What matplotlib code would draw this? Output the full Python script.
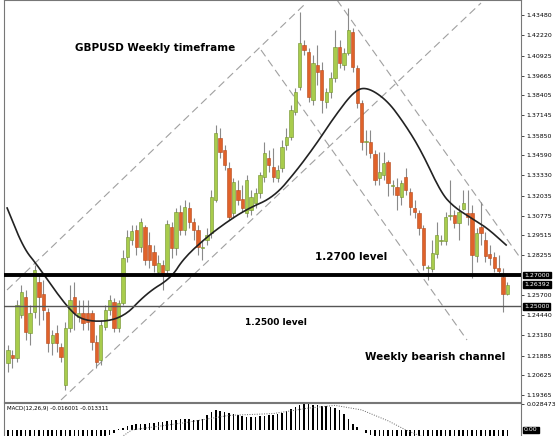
import numpy as np
import matplotlib
matplotlib.use("Agg")
import matplotlib.pyplot as plt
from matplotlib.patches import Rectangle

# Readings in chart units (vertical unit = screen row),
# calibrated to prices using the 1.2700 (row 275) and 1.2500 (row 306.5) levels.
REF_ROW, REF_PRICE, PRICE_PER_ROW = 275.0, 1.2700, 0.000635
def to_price(rows):
    return REF_PRICE + (REF_ROW - np.asarray(rows, float)) * PRICE_PER_ROW

open_r = [363,355,358,315,297,333,312,282,294,312,343,333,347,385,328,297,317,313,313,313,342,360,327,310,302,328,303,257,240,230,
          247,227,245,252,272,265,270,227,248,212,230,208,222,230,248,240,233,200,138,150,168,213,190,199,213,210,203,193,177,158,
          167,178,168,145,137,112,87,45,52,100,65,70,102,92,78,47,65,53,32,68,103,142,142,154,178,175,162,186,187,197,
          177,192,208,213,228,268,269,254,241,241,216,215,223,209,213,213,256,227,240,254,257,268,277,294]
close_r = [350,358,305,292,332,313,270,297,310,343,335,343,357,328,300,313,313,323,322,342,362,325,310,300,328,303,258,237,231,247,
           222,260,260,265,263,273,224,248,212,230,207,222,230,247,248,235,197,133,152,165,217,182,200,208,180,197,193,175,153,165,
           177,170,147,137,110,92,43,50,97,63,72,100,92,78,47,63,53,30,67,103,142,142,153,180,172,163,183,186,195,183,
           190,207,212,228,265,268,253,235,241,217,216,223,212,203,217,255,233,233,256,258,268,271,294,285]
high_r = [345,350,300,285,290,305,265,275,280,308,330,325,343,322,285,282,300,300,300,310,335,320,305,295,298,300,250,230,225,225,
          218,225,232,245,255,260,220,222,208,205,200,202,218,225,240,228,190,125,128,145,162,178,180,185,175,190,188,172,142,150,
          148,165,140,128,105,88,12,40,48,55,45,62,88,72,30,40,48,8,28,65,100,130,130,150,152,152,160,180,178,180,
          168,188,200,210,225,265,240,222,235,212,180,210,205,190,190,205,228,202,232,245,252,255,268,282]
low_r = [372,368,362,318,340,345,318,325,320,352,355,352,362,390,332,330,322,330,330,350,368,365,330,315,332,332,305,262,245,255,
         252,265,268,272,275,290,275,258,255,235,235,228,240,255,260,245,238,202,158,170,220,218,205,212,217,215,208,198,182,172,
         182,182,172,150,140,115,90,55,102,105,85,113,108,98,82,68,70,55,72,108,150,155,158,185,185,180,196,195,210,205,
         195,215,218,235,270,280,272,258,245,245,220,228,240,210,225,278,262,245,262,265,272,275,312,295]

# Moving average readings (candle index, row)
ma_idx = [-0.2,3.5,6.6,13.3,17.2,25.6,31.4,36.9,39.8,45,49.5,54.1,60.2,65.4,69.9,73.8,78.3,81.2,85.7,89.6,93.4,98,100.9,104.8,108.4,112.7]
ma_row = [208,248,265,307,322,320,293,278,258,237,222,209,197,170,143,117,91,87,100,123,150,193,207,218,228,245]

macd_hist = [-0.02,-0.021,-0.019,-0.018,-0.017,-0.016,-0.014,-0.013,-0.013,-0.014,-0.015,-0.016,-0.017,-0.017,-0.015,-0.013,-0.012,-0.012,-0.013,-0.014,-0.014,-0.012,-0.009,-0.006,
             -0.003,0.001,0.002,0.004,0.005,0.006,0.006,0.007,0.008,0.008,0.009,
             0.009,0.010,0.011,0.011,0.012,0.012,0.012,0.011,0.011,0.012,
             0.016,0.020,0.022,0.021,0.020,0.019,
             0.017,0.016,0.015,0.014,0.014,0.014,0.015,0.015,0.016,0.016,0.017,
             0.019,0.021,0.023,0.025,0.027,0.028,0.028,0.027,0.027,0.026,0.026,0.025,0.024,0.022,
             0.018,0.012,0.007,0.003,0.000,-0.003,-0.005,
             -0.008,-0.01,-0.012,-0.013,-0.014,-0.015,-0.015,-0.016,-0.016,-0.017,-0.018,-0.018,-0.018,-0.017,-0.017,-0.017,
             -0.016,-0.016,-0.016,-0.015,-0.015,-0.015,-0.015,-0.015,-0.014,-0.014,-0.014,-0.015,-0.015,-0.016,-0.016]
sig_idx = [22,28,40,50,60,68,74,80,86,90,95,113]
sig_val = [-0.02,0.0,0.008,0.016,0.018,0.024,0.027,0.022,0.01,0.0,-0.01,-0.016]

tick_labels = ["1.43480","1.42220","1.40925","1.39665","1.38405","1.37145","1.35850","1.34590","1.33330",
               "1.32035","1.30775","1.29515","1.28255","1.25700","1.24440","1.23180","1.21885","1.20625","1.19365"]
level_hi, level_lo, last_price = 1.27000, 1.25000, 1.26392

# channel line endpoints, (screen col, row) readings
channels = [((3,290),(300,5)), ((57,400),(477,3)), ((333,0),(527,273)), ((257,50),(463,340))]

W, H = 556, 436
fig = plt.figure(figsize=(W/100, H/100), dpi=100)
X0, SP = 4.0, 4.42
def col2idx(c): return (c - X0) / SP

def chaikin(x, y, n=3):
    # rounds the corners of the drawn polyline (drawing style only)
    p = np.column_stack([x, y]).astype(float)
    for _ in range(n):
        q = 0.75 * p[:-1] + 0.25 * p[1:]
        r = 0.25 * p[:-1] + 0.75 * p[1:]
        mid = np.empty((2 * len(q), 2)); mid[0::2] = q; mid[1::2] = r
        p = np.vstack([p[:1], mid, p[-1:]])
    return p[:, 0], p[:, 1]

ax = fig.add_axes([4/W, (H-402)/H, 517/W, 402/H])
ax.set_xlim(col2idx(0), col2idx(517))
ax.set_ylim(to_price(402), to_price(0))

o, c, h, l = map(to_price, (open_r, close_r, high_r, low_r))
for i in range(len(o)):
    up = c[i] >= o[i]
    ax.vlines(i, l[i], h[i], color="#8a8a8a", lw=0.8, zorder=2)
    col = "#a8cc4c" if up else "#e0622a"
    edge = "#6f8f2a" if up else "#b4481a"
    bot, top = min(o[i], c[i]), max(o[i], c[i])
    ax.add_patch(Rectangle((i-0.38, bot), 0.76, max(top-bot, 0.0004), facecolor=col, edgecolor=edge, lw=0.4, zorder=3))

mxs, mys = chaikin(ma_idx, to_price(ma_row))
ax.plot(mxs, mys, color="#222222", lw=1.2, zorder=4)
for (a, b) in channels:
    ax.plot([col2idx(a[0]), col2idx(b[0])], to_price([a[1], b[1]]), color="#a0a0a0", lw=0.8, ls=(0, (7, 4)), zorder=1)

ax.axhline(level_hi, color="black", lw=2.8, zorder=5)
ax.axhline(level_lo, color="#555555", lw=1.0, zorder=5)

ax.yaxis.tick_right()
ax.set_yticks([float(t) for t in tick_labels])
ax.set_yticklabels(tick_labels, fontsize=4.5)
ax.tick_params(axis="y", length=2, pad=2, width=0.5)
ax.set_xticks([])
for s in ax.spines.values():
    s.set_linewidth(0.8); s.set_color("#777777")
for val, txt in [(level_hi, "1.27000"), (last_price, "1.26392"), (level_lo, "1.25000")]:
    ax.text(1.006, val, txt, transform=ax.get_yaxis_transform(), fontsize=4.5, color="white", va="center",
            ha="left", bbox=dict(boxstyle="square,pad=0.15", fc="black", ec="black"))

fig.text(75/W, 1-48/H, "GBPUSD Weekly timeframe", fontsize=7.5, fontweight="bold", va="center")
fig.text(315/W, 1-257/H, "1.2700 level", fontsize=7.5, fontweight="bold", va="center")
fig.text(245/W, 1-322/H, "1.2500 level", fontsize=6.5, fontweight="bold", va="center")
fig.text(365/W, 1-357/H, "Weekly bearish channel", fontsize=7.5, fontweight="bold", va="center")

mx = fig.add_axes([4/W, -14/H, 517/W, 47/H])
mx.set_xlim(col2idx(0), col2idx(517))
mx.set_ylim(-0.022, 0.0296)
mx.bar(np.arange(len(macd_hist)), macd_hist, width=0.35, color="black")
mx.plot(sig_idx, sig_val, color="#666666", lw=0.7, ls=(0, (1, 1.5)))
mx.set_xticks([])
mx.yaxis.tick_right()
mx.set_yticks([0.028473])
mx.set_yticklabels(["0.028473"], fontsize=4.5)
mx.tick_params(axis="y", length=2, pad=2, width=0.5)
mx.text(1.006, 0.0, "0.00", transform=mx.get_yaxis_transform(), fontsize=4.5, color="white", va="center",
        bbox=dict(boxstyle="square,pad=0.15", fc="black", ec="black"))
mx.text(0.005, 0.93, "MACD(12,26,9) -0.016001 -0.013311", transform=mx.transAxes, fontsize=4, va="top")
for s in mx.spines.values():
    s.set_linewidth(0.8); s.set_color("#777777")

fig.savefig("out.png", dpi=100)
